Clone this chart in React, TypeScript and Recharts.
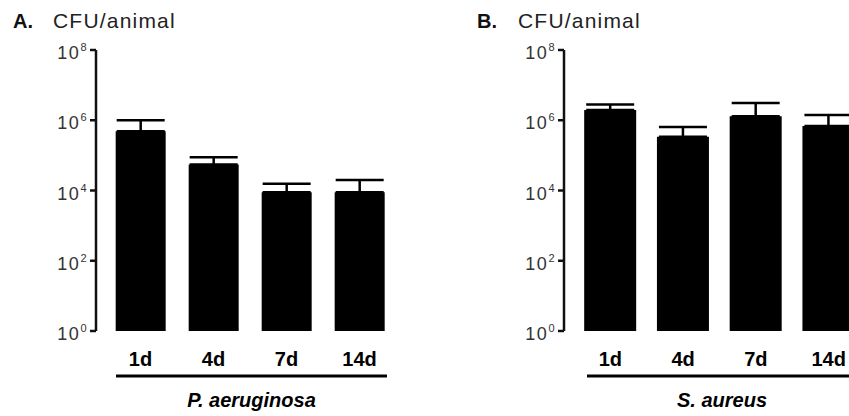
import React from 'react';
import { BarChart, Bar, XAxis, YAxis, ErrorBar } from 'recharts';

const days = ['1d', '4d', '7d', '14d'];
const paMeans = [4.9e5, 5.5e4, 8.9e3, 8.9e3];
const paUpper = [1.0e6, 8.8e4, 1.55e4, 2.0e4];
const saMeans = [1.96e6, 3.4e5, 1.3e6, 6.9e5];
const saUpper = [2.8e6, 6.4e5, 3.1e6, 1.4e6];
const yTicks = [1, 1e2, 1e4, 1e6, 1e8];

const FONT = '"Liberation Sans", Arial, Helvetica, sans-serif';

const build = (means: number[], upper: number[]) =>
  days.map((d, i) => ({ day: d, value: means[i], err: [0, upper[i] - means[i]] }));

const paData = build(paMeans, paUpper);
const saData = build(saMeans, saUpper);

const LogTick = (props: any) => {
  const { x, y, payload } = props;
  const exp = Math.round(Math.log10(payload.value));
  return (
    <text x={x} y={y + 9} textAnchor="end" fill="#333" fontFamily={FONT} fontSize={18} letterSpacing={1.5}>
      <tspan>10</tspan>
      <tspan dy={-8} fontSize={11}>{exp}</tspan>
    </text>
  );
};

const DayTick = (props: any) => {
  const { x, y, payload } = props;
  return (
    <text x={x} y={y + 35} textAnchor="middle" fill="#000" fontFamily={FONT} fontSize={20} fontWeight="bold">
      {payload.value}
    </text>
  );
};

const makeLabel = (name: string, insetL: number, insetR: number, padL: number) => (p: any) => {
  const vb = p.viewBox || {};
  const x1 = vb.x + padL + insetL;
  const x2 = vb.x + vb.width - insetR;
  const cx = (x1 + x2) / 2;
  return (
    <g>
      <line x1={x1} x2={x2} y1={376} y2={376} stroke="#000" strokeWidth={3} />
      <text x={cx} y={407} textAnchor="middle" fill="#000" fontFamily={FONT} fontSize={20} fontWeight="bold" fontStyle="italic">
        {name}
      </text>
    </g>
  );
};

const Panel = ({ data, name, width, marginLeft, marginRight, padL, gap, insetL, insetR }: any) => (
  <BarChart
    width={width}
    height={416}
    data={data}
    margin={{ top: 50, right: marginRight, bottom: 25, left: marginLeft }}
    barCategoryGap={gap}
  >
    <XAxis
      dataKey="day"
      axisLine={false}
      tickLine={false}
      tickSize={0}
      tickMargin={0}
      height={60}
      padding={{ left: padL, right: 0 }}
      tick={<DayTick />}
      interval={0}
      label={{ content: makeLabel(name, insetL, insetR, padL) } as any}
    />
    <YAxis
      type="number"
      scale="log"
      domain={[1, 1e8]}
      allowDataOverflow
      ticks={yTicks}
      width={60}
      axisLine={{ stroke: '#111', strokeWidth: 2.5 }}
      tickLine={{ stroke: '#111', strokeWidth: 2.5 }}
      tickSize={6}
      tickMargin={2}
      tick={<LogTick />}
      interval={0}
    />
    <Bar dataKey="value" fill="#000" isAnimationActive={false}>
      <ErrorBar dataKey="err" direction="y" width={24} stroke="#000" strokeWidth={2.5} />
    </Bar>
  </BarChart>
);

export default function App() {
  return (
    <div
      style={{
        position: 'absolute',
        left: 0,
        top: 0,
        width: 849,
        height: 416,
        overflow: 'hidden',
        background: '#fff',
        fontFamily: FONT,
      }}
    >
      <svg width={849} height={40} style={{ position: 'absolute', left: 0, top: 0 }}>
        <text x={13} y={28} fontFamily={FONT} fontSize={20} fontWeight="bold" fill="#111">A.</text>
        <text x={53} y={28} fontFamily={FONT} fontSize={21} letterSpacing={1.2} fill="#222">CFU/animal</text>
        <text x={477} y={28} fontFamily={FONT} fontSize={20} fontWeight="bold" fill="#111">B.</text>
        <text x={518} y={28} fontFamily={FONT} fontSize={21} letterSpacing={1.2} fill="#222">CFU/animal</text>
      </svg>
      <div style={{ position: 'absolute', left: 0, top: 0, width: 420, height: 416 }}>
        <Panel data={paData} name="P. aeruginosa" width={420} marginLeft={36} marginRight={24} padL={8} gap="16%" insetL={12} insetR={9} />
      </div>
      <div style={{ position: 'absolute', left: 420, top: 0, width: 429, height: 416, overflow: 'hidden' }}>
        <Panel data={saData} name="S. aureus" width={460} marginLeft={84} marginRight={15} padL={10} gap="14%" insetL={13} insetR={8} />
      </div>
    </div>
  );
}
